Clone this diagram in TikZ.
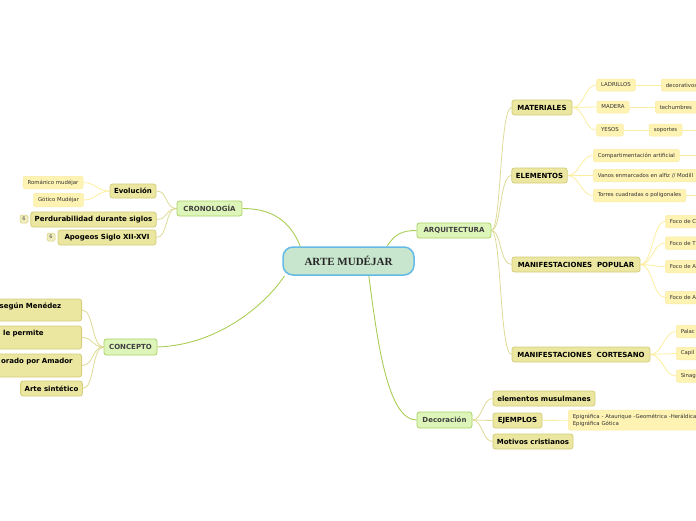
\documentclass[tikz,border=0pt]{standalone}
\usepackage{fontspec}
\setsansfont{DejaVu Sans}
\newfontfamily\rootfont{Liberation Serif}
\usepackage{tikz}
\usetikzlibrary{backgrounds}
\definecolor{rootfill}{RGB}{200,230,205}
\definecolor{rootline}{RGB}{100,185,230}
\definecolor{mainfill}{RGB}{222,245,185}
\definecolor{mainline}{RGB}{170,210,100}
\definecolor{subfill}{RGB}{235,230,160}
\definecolor{subline}{RGB}{212,206,125}
\definecolor{leaffill}{RGB}{255,243,180}
\definecolor{leafline}{RGB}{250,236,165}
\definecolor{linkgreen}{RGB}{170,205,85}
\definecolor{linkkhaki}{RGB}{222,218,150}
\definecolor{linkyellow}{RGB}{252,238,160}

\tikzset{
  root/.style={draw=rootline, line width=1.5pt, fill=rootfill, rounded corners=10pt,
    minimum width=131pt, minimum height=28pt, text=black!85,
    font=\rootfont\bfseries\fontsize{11}{13}\selectfont},
  maintopic/.style={draw=mainline, line width=0.8pt, fill=mainfill, rounded corners=2.5pt,
    minimum height=15pt, inner xsep=4pt, inner ysep=2pt, text=black!75,
    font=\sffamily\bfseries\fontsize{7}{8.5}\selectfont},
  subtopic/.style={draw=subline, line width=0.8pt, fill=subfill, rounded corners=2.5pt,
    minimum height=15pt, inner xsep=4pt, inner ysep=2pt, text=black,
    font=\sffamily\bfseries\fontsize{7}{8.5}\selectfont},
  leaftopic/.style={draw=leafline, line width=0.5pt, fill=leaffill, rounded corners=2pt,
    minimum height=12.5pt, inner xsep=4.5pt, inner ysep=1.5pt, text=black!80,
    font=\sffamily\fontsize{5.4}{6.8}\selectfont},
  badge/.style={draw=subline, line width=0.5pt, fill=subfill!70, rounded corners=1.5pt,
    minimum size=8pt, inner sep=0pt, text=black!70, font=\sffamily\fontsize{5}{5}\selectfont},
  mainlink/.style={draw=linkgreen, line width=0.9pt},
  sublink/.style={draw=linkkhaki, line width=0.8pt},
  leaflink/.style={draw=linkyellow, line width=0.8pt}
}

\begin{document}
\begin{tikzpicture}[x=1pt, y=-1pt]
  \useasboundingbox (0,0) rectangle (696,520);
  % centre
  \node[root] (root) at (348.5,261) {ARTE MUDÉJAR};

  % cronologia
  \node[maintopic, minimum width=65pt] (cro) at (209.5,208.5) {CRONOLOGÍA};
  \node[subtopic, minimum width=46pt, minimum height=14pt] (evo) at (133,191) {Evolución};
  \node[leaftopic, minimum width=60pt] (rom) at (53,182.5) {Románico mudéjar};
  \node[leaftopic, minimum width=49pt, minimum height=13.5pt] (got) at (58.5,200) {Gótico Mudéjar};
  \node[subtopic, minimum width=125pt] (per) at (93.5,219.5) {Perdurabilidad durante siglos};
  \node[badge] (bper) at (24,219) {6};
  \node[subtopic, minimum width=98pt] (apo) at (107,237.5) {Apogeos Siglo XII-XVI};
  \node[badge] (bapo) at (51,237) {6};

  % concepto
  \node[maintopic, minimum width=53pt, minimum height=16pt] (con) at (130.5,347) {CONCEPTO};
  \node[subtopic, anchor=east, text width=150pt, align=right, inner xsep=0pt, minimum height=22pt]
    (con1) at (82,310) {\mbox{según Menédez\hspace{20.5pt}}\\\mbox{}};
  \node[subtopic, anchor=east, text width=150pt, align=right, inner xsep=0pt, minimum height=23pt]
    (con2) at (82,337.5) {\mbox{le permite\hspace{38pt}}\\\mbox{}};
  \node[subtopic, anchor=east, text width=150pt, align=right, inner xsep=0pt, minimum height=23pt]
    (con3) at (82,365.5) {\mbox{orado por Amador\hspace{9pt}}\\\mbox{}};
  \node[subtopic, minimum width=61pt] (con4) at (51.5,388.5) {Arte sintético};

  % arquitectura
  \node[maintopic, minimum width=74pt] (arq) at (454,230.5) {ARQUITECTURA};
  \node[subtopic, minimum width=60pt] (mat) at (542,107.5) {MATERIALES};
  \node[leaftopic, minimum width=38pt, minimum height=12pt] (lad) at (616,85) {LADRILLOS};
  \node[leaftopic, minimum width=32pt, minimum height=12pt] (mad) at (613,107) {MADERA};
  \node[leaftopic, minimum width=26pt, minimum height=12pt] (yes) at (610,130) {YESOS};
  \node[leaftopic, anchor=west, minimum height=12pt] (deco1) at (661,85) {decorativos};
  \node[leaftopic, anchor=west, minimum height=12pt] (tech) at (655,107) {techumbres};
  \node[leaftopic, minimum width=33pt, minimum height=12pt] (sop) at (665.5,130) {soportes};
  \coordinate (sopx) at (700,130);

  \node[subtopic, minimum width=55pt] (ele) at (539.5,175.5) {ELEMENTOS};
  \node[leaftopic, anchor=west] (comp) at (593,155.5) {Compartimentación artificial};
  \node[leaftopic, anchor=west] (vano) at (593,175.5) {Vanos enmarcados en alfiz // Modill};
  \node[leaftopic, anchor=west] (torr) at (593,195.5) {Torres cuadradas o poligonales};
  \coordinate (compx) at (700,155.5);
  \coordinate (torrx) at (700,195.5);

  \node[subtopic, minimum width=128pt] (pop) at (576,264.5) {MANIFESTACIONES\ \ POPULAR};
  \node[leaftopic, anchor=west] (foc1) at (665,221.5) {Foco de C};
  \node[leaftopic, anchor=west] (foc2) at (665,243) {Foco de T};
  \node[leaftopic, anchor=west] (foc3) at (665,266.5) {Foco de A};
  \node[leaftopic, anchor=west] (foc4) at (665,297.5) {Foco de A};

  \node[subtopic, minimum width=138pt] (cor) at (581,354.5) {MANIFESTACIONES\ \ CORTESANO};
  \node[leaftopic, anchor=west] (pal) at (676,331.5) {Palac};
  \node[leaftopic, anchor=west] (cap) at (676,353.5) {Capil};
  \node[leaftopic, anchor=west] (sin) at (676,376) {Sinag};

  % decoracion
  \node[maintopic, minimum width=55pt, minimum height=16pt] (dec) at (444.5,420) {Decoración};
  \node[subtopic, minimum width=102pt] (mus) at (544,398.5) {elementos musulmanes};
  \node[subtopic, minimum width=49pt] (eje) at (517.5,420.5) {EJEMPLOS};
  \node[subtopic, minimum width=80pt] (mot) at (533,441.5) {Motivos cristianos};
  \node[leaftopic, anchor=west, text width=140pt, align=left, minimum height=20pt] (epi) at (568,420)
    {Epigráfica - Ataurique -Geométrica -Heráldica\\Epigráfica Gótica};

  % connectors
  \begin{scope}[on background layer]
    \draw[mainlink] (root.163) .. controls +(-10,-25) and +(30,0) .. (cro.east);
    \draw[mainlink] (root.193) .. controls +(-20,30) and +(60,-2) .. (con.east);
    \draw[mainlink] (root.21) .. controls +(8,-12) and +(-15,0) .. (arq.west);
    \draw[mainlink] (root.-36) .. controls +(8,60) and +(-30,0) .. (dec.west);

    \foreach \c in {evo,per,apo}
      \draw[sublink] (cro.west) .. controls +(-12,0) and +(12,0) .. (\c.east);
    \foreach \c in {rom,got}
      \draw[leaflink] (evo.west) .. controls +(-12,0) and +(12,0) .. (\c.east);
    \foreach \c in {con1,con2,con3,con4}
      \draw[sublink] (con.west) .. controls +(-12,0) and +(12,0) .. (\c.east);

    \foreach \c in {mat,ele,pop,cor}
      \draw[sublink] (arq.east) .. controls +(10,0) and +(-12,0) .. (\c.west);
    \foreach \c in {lad,mad,yes}
      \draw[leaflink] (mat.east) .. controls +(12,0) and +(-12,0) .. (\c.west);
    \draw[leaflink] (lad) -- (deco1);
    \draw[leaflink] (mad) -- (tech);
    \draw[leaflink] (yes) -- (sop);
    \draw[leaflink] (sop) -- (sopx);
    \foreach \c in {comp,vano,torr}
      \draw[leaflink] (ele.east) .. controls +(12,0) and +(-12,0) .. (\c.west);
    \draw[leaflink] (comp) -- (compx);
    \draw[leaflink] (torr) -- (torrx);
    \foreach \c in {foc1,foc2,foc3,foc4}
      \draw[leaflink] (pop.east) .. controls +(12,0) and +(-12,0) .. (\c.west);
    \foreach \c in {pal,cap,sin}
      \draw[leaflink] (cor.east) .. controls +(12,0) and +(-12,0) .. (\c.west);

    \foreach \c in {mus,eje,mot}
      \draw[sublink] (dec.east) .. controls +(10,0) and +(-10,0) .. (\c.west);
    \draw[leaflink] (eje) -- (epi);
  \end{scope}
\end{tikzpicture}
\end{document}
